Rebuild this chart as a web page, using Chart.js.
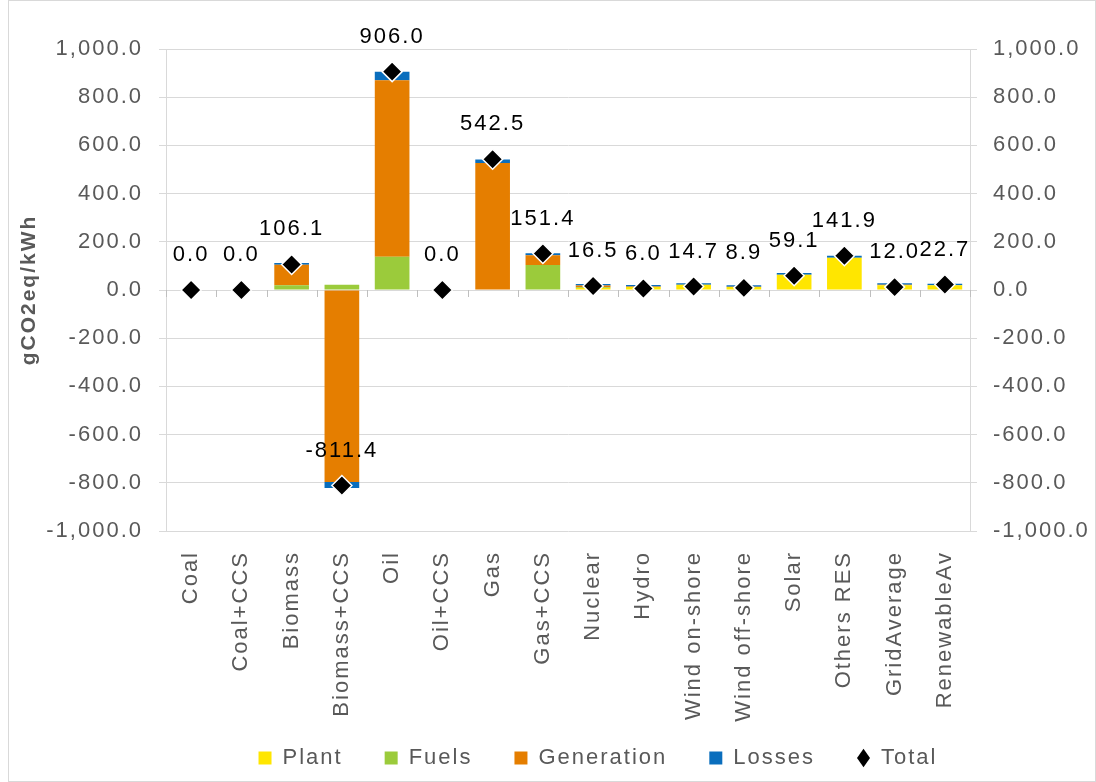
<!DOCTYPE html>
<html lang="en">
<head>
    <meta charset="UTF-8">
    <title>gCO2eq/kWh by technology</title>
    <script src="https://cdn.jsdelivr.net/npm/chart.js"></script>
    <style>
        html, body { margin: 0; padding: 0; background: #fff; }
        #wrap { width: 1096px; height: 782px; }
    </style>
</head>
<body>
<div id="wrap"><canvas id="co2Chart" width="1096" height="782"></canvas></div>
<script>
    var categories = ['Coal', 'Coal+CCS', 'Biomass', 'Biomass+CCS', 'Oil', 'Oil+CCS', 'Gas', 'Gas+CCS',
        'Nuclear', 'Hydro', 'Wind on-shore', 'Wind off-shore', 'Solar', 'Others RES', 'GridAverage', 'RenewableAv'];
    var plant      = [0, 0, 0, 0, 0, 0, 0, 0, 8, 12, 22, 12, 63, 134, 20, 20];
    var fuels      = [0, 0, 20, 22, 138, 0, 0, 104, 3, 0, 0, 0, 0, 0, 0, 0];
    var generation = [0, 0, 85, -797, 732, 0, 527, 40, 8, 3, 0, 2, 0, 0, 2, 0];
    var losses     = [0, 0, 7, -25, 36, 0, 15, 8, 6, 6, 6, 6, 8, 8, 6, 6];
    var total      = [0.0, 0.0, 106.1, -811.4, 906.0, 0.0, 542.5, 151.4, 16.5, 6.0, 14.7, 8.9, 59.1, 141.9, 12.0, 22.7];
    var yTicks     = [-1000, -800, -600, -400, -200, 0, 200, 400, 600, 800, 1000];

    var gray = '#595959';
    var FONT = '"Liberation Sans", Arial, sans-serif';
    var LEGEND_PAD = 42;
    var BOTTOM_PULL = 70;
    var fmt = function (v) {
        return Number(v).toLocaleString('en-US', { minimumFractionDigits: 1, maximumFractionDigits: 1 });
    };

    // the original text is set a little wide, so space the letters out a bit
    var spacing = {
        id: 'spacing',
        beforeUpdate: function (chart) { chart.ctx.letterSpacing = '2px'; },
        beforeDraw: function (chart) { chart.ctx.letterSpacing = '2px'; },
        afterLayout: function (chart) {
            // legend row sits at y 758, a bit right of centre
            var lg = chart.legend;
            var dy = 758 - (lg.top + LEGEND_PAD + 11);
            lg.top += dy; lg.bottom += dy;
            lg.left += 50; lg.right += 50;
        }
    };

    // labels above the diamonds, tick marks on the zero line, outer frame
    var extras = {
        id: 'extras',
        afterDatasetsDraw: function (chart) {
            var ctx = chart.ctx;
            var x = chart.scales.x, y = chart.scales.y;
            var y0 = y.getPixelForValue(0);
            var step = x.getPixelForValue(1) - x.getPixelForValue(0);
            ctx.save();
            ctx.strokeStyle = '#bfbfbf';
            ctx.lineWidth = 1;
            ctx.beginPath();
            for (var i = 0; i <= categories.length; i++) {
                var px = Math.round(x.getPixelForValue(i) - step / 2) + 0.5;
                ctx.moveTo(px, y0);
                ctx.lineTo(px, y0 + 7);
            }
            ctx.stroke();

            var meta = chart.getDatasetMeta(4);
            ctx.fillStyle = '#000';
            ctx.font = '22px ' + FONT;
            ctx.textAlign = 'center';
            ctx.textBaseline = 'middle';
            meta.data.forEach(function (pt, i) {
                ctx.fillText(fmt(total[i]), pt.x, pt.y - 35);
            });

            ctx.strokeStyle = '#d9d9d9';
            ctx.strokeRect(8.5, 0.5, chart.width - 9, chart.height - 1);
            ctx.restore();
        }
    };

    var ctx = document.getElementById('co2Chart').getContext('2d');
    var co2Chart = new Chart(ctx, {
        data: {
            labels: categories,
            datasets: [
                { type: 'bar', label: 'Plant', data: plant, backgroundColor: '#FFE600', stack: 's', order: 1 },
                { type: 'bar', label: 'Fuels', data: fuels, backgroundColor: '#9BCB3B', stack: 's', order: 1 },
                { type: 'bar', label: 'Generation', data: generation, backgroundColor: '#E57E00', stack: 's', order: 1 },
                { type: 'bar', label: 'Losses', data: losses, backgroundColor: '#0A6EBD', stack: 's', order: 1 },
                {
                    type: 'line', label: 'Total', data: total, showLine: false, stack: 't', order: 0,
                    pointStyle: 'rectRot', pointRadius: 10, pointHoverRadius: 10,
                    backgroundColor: '#000', borderColor: '#fff', borderWidth: 1.5
                }
            ]
        },
        options: {
            responsive: false,
            animation: false,
            layout: { padding: { top: 49, bottom: -BOTTOM_PULL, left: 0, right: 0 } },
            plugins: {
                tooltip: { enabled: false },
                legend: {
                    position: 'bottom',
                    labels: {
                        color: gray,
                        font: { size: 22, family: FONT },
                        boxWidth: 13,
                        boxHeight: 13,
                        padding: LEGEND_PAD,
                        usePointStyle: true,
                        pointStyleWidth: 13,
                        generateLabels: function (chart) {
                            return chart.data.datasets.map(function (ds, i) {
                                return {
                                    text: ds.label,
                                    fillStyle: i === 4 ? '#000' : ds.backgroundColor,
                                    strokeStyle: i === 4 ? '#000' : ds.backgroundColor,
                                    lineWidth: 0,
                                    pointStyle: i === 4 ? 'rectRot' : 'rect',
                                    fontColor: gray,
                                    datasetIndex: i
                                };
                            });
                        }
                    }
                }
            },
            scales: {
                x: {
                    stacked: true,
                    grid: { display: false },
                    border: { display: false },
                    ticks: {
                        color: gray,
                        minRotation: 90,
                        maxRotation: 90,
                        padding: 12,
                        font: { size: 22, family: FONT }
                    },
                    afterFit: function (s) { s.height = 782 + BOTTOM_PULL - 531 - s.chart.legend.height; }
                },
                y: {
                    stacked: true,
                    position: 'left',
                    min: -1000,
                    max: 1000,
                    afterBuildTicks: function (s) { s.ticks = yTicks.map(function (v) { return { value: v }; }); },
                    grid: { color: '#d9d9d9', drawTicks: true, tickLength: 7, tickColor: '#d9d9d9' },
                    border: { display: true, color: '#d9d9d9' },
                    ticks: {
                        color: gray,
                        padding: 16,
                        font: { size: 22, family: FONT },
                        callback: function (v) { return fmt(v); }
                    },
                    title: {
                        display: true,
                        text: 'gCO2eq/kWh',
                        color: gray,
                        padding: { top: 17, bottom: 4 },
                        font: { size: 21, weight: 'bold', family: FONT }
                    },
                    afterFit: function (s) { s.width = 166; }
                },
                y2: {
                    position: 'right',
                    min: -1000,
                    max: 1000,
                    afterBuildTicks: function (s) { s.ticks = yTicks.map(function (v) { return { value: v }; }); },
                    grid: { display: true, drawOnChartArea: false, drawTicks: true, tickLength: 7, tickColor: '#d9d9d9' },
                    border: { display: true, color: '#d9d9d9' },
                    ticks: {
                        color: gray,
                        padding: 16,
                        font: { size: 22, family: FONT },
                        callback: function (v) { return fmt(v); }
                    },
                    afterFit: function (s) { s.width = 126; }
                }
            },
            datasets: { bar: { barPercentage: 0.69, categoryPercentage: 1 } }
        },
        plugins: [spacing, extras]
    });
</script>
</body>
</html>
